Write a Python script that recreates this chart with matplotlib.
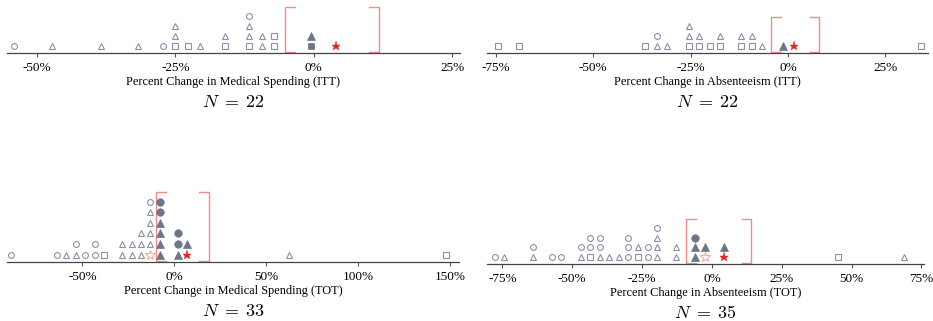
import matplotlib
matplotlib.use('Agg')
from matplotlib import pyplot as plt

plt.rcParams['font.family'] = ['Liberation Serif', 'DejaVu Serif']
plt.rcParams['mathtext.fontset'] = 'cm'

# Marker codes: o/^/s open circle/triangle/square, O/A/S filled versions,
# * = this study's estimate (red star), w = open pink star

# Medical spending, ITT
med_itt_x = [-54.1, -47.3, -38.4, -31.7, -27.3, -25.1, -25.1, -25.1, -22.8, -20.5,
             -16.1, -16.1, -11.7, -11.7, -11.7, -11.7, -9.4, -9.4, -7.2, -7.2,
             -0.5, -0.5, 4.0]
med_itt_m = ['o', '^', '^', '^', 'o', 's', '^', '^', 's', '^',
             's', '^', 's', '^', '^', 'o', '^', '^', 's', 's',
             'S', 'A', '*']
med_itt_ci = [-5.2, 11.8]

# Absenteeism, ITT
abs_itt_x = [-74.4, -69.0, -36.8, -33.6, -33.6, -31.0, -25.5, -25.5, -25.5, -22.8,
             -22.8, -20.1, -17.4, -17.4, -12.0, -12.0, -9.2, -9.2, -6.6, -1.3,
             1.5, 34.2]
abs_itt_m = ['s', 's', 's', '^', 'o', '^', 's', '^', '^', 's',
             '^', 's', 's', '^', 's', '^', 's', '^', '^', 'A',
             '*', 's']
abs_itt_ci = [-4.4, 8.0]

# Medical spending, TOT
med_tot_x = [-88.6, -63.6, -58.7, -53.6, -53.6, -48.4, -43.3, -43.3, -38.2,
             -28.3, -28.3, -23.2, -23.2, -18.1, -18.1, -18.1,
             -13.0, -13.0, -13.0, -13.0, -13.0, -13.0,
             -8.0, -8.0, -8.0, -8.0, -8.0, -8.0,
             2.0, 2.0, 2.0, 7.1, 7.1, 62.3, 147.8]
med_tot_m = ['o', 'o', '^', '^', 'o', 'o', 'o', 'o', 's',
             '^', '^', '^', '^', '^', '^', '^',
             'w', '^', '^', '^', '^', 'o',
             'A', 'A', 'A', 'A', 'O', 'O',
             'A', 'O', 'O', '*', 'A', '^', 's']
med_tot_ci = [-10.1, 18.8]

# Absenteeism, TOT
abs_tot_x = [-77.7, -74.4, -64.0, -64.0, -57.2, -53.9, -47.0, -47.0,
             -43.5, -43.5, -43.5, -40.2, -40.2, -40.2, -36.8, -33.4,
             -29.9, -29.9, -29.9, -26.5, -26.5, -23.0, -23.0,
             -19.7, -19.7, -19.7, -19.7, -12.7, -12.7,
             -5.9, -5.9, -5.9, -2.6, -2.6, 4.2, 4.2, 45.1, 68.9]
abs_tot_m = ['o', '^', '^', 'o', 'o', 'o', '^', 'o',
             's', 'o', 'o', '^', 'o', 'o', '^', '^',
             'o', 'o', 'o', 's', '^', 'o', 'o',
             '^', '^', '^', 'o', '^', '^',
             'A', 'A', 'O', 'w', 'A', '*', 'A', 's', '^']
abs_tot_ci = [-9.2, 14.1]

open_col = '#8a91a8'
fill_col = '#6d7589'
styles = {
    'o': dict(marker='o', ms=4.2, mfc='white', mec=open_col, mew=0.8),
    '^': dict(marker='^', ms=4.6, mfc='white', mec=open_col, mew=0.8),
    's': dict(marker='s', ms=4.0, mfc='white', mec=open_col, mew=0.8),
    'O': dict(marker='o', ms=5.4, mfc=fill_col, mec=fill_col, mew=0.5),
    'A': dict(marker='^', ms=5.6, mfc=fill_col, mec=fill_col, mew=0.5),
    'S': dict(marker='s', ms=5.0, mfc=fill_col, mec=fill_col, mew=0.5),
    '*': dict(marker='*', ms=6.5, mfc='#e3281d', mec='#e3281d', mew=0.3),
    'w': dict(marker='*', ms=7.0, mfc='white', mec='#f3a39c', mew=0.7),
}

W, H = 933, 321
fig = plt.figure(figsize=(W / 100, H / 100), dpi=100)

# (x list, marker list, ci, xlim, ticks, label, N, px box: left, right, axis y, row spacing)
panels = [
    (med_itt_x, med_itt_m, med_itt_ci, (-55.4, 26.4), [-50, -25, 0, 25],
     'Percent Change in Medical Spending (ITT)', 22, (7, 460, 53, 10.0)),
    (abs_itt_x, abs_itt_m, abs_itt_ci, (-77.2, 35.9), [-75, -50, -25, 0, 25],
     'Percent Change in Absenteeism (ITT)', 22, (487, 928, 53, 10.0)),
    (med_tot_x, med_tot_m, med_tot_ci, (-91, 154.7), [-50, 0, 50, 100, 150],
     'Percent Change in Medical Spending (TOT)', 33, (7, 459, 262, 10.6)),
    (abs_tot_x, abs_tot_m, abs_tot_ci, (-80.5, 75.9), [-75, -50, -25, 0, 25, 50, 75],
     'Percent Change in Absenteeism (TOT)', 35, (487, 924, 264, 9.8)),
]

for xs, ms, ci, xlim, ticks, label, n, (l, r, yax, sp) in panels:
    top = yax - 52 if yax < 100 else yax - 85
    ax = fig.add_axes([l / W, 1 - yax / H, (r - l) / W, (yax - top) / H])
    ax.set_xlim(*xlim)
    ax.set_ylim(0.3, 0.3 + (yax - top) / sp)

    counts = {}
    for x, m in zip(xs, ms):
        counts[x] = counts.get(x, 0) + 1
        ax.plot([x], [counts[x]], ls='none', clip_on=False, zorder=3, **styles[m])

    # bracket for the confidence interval
    yb, yt = 0.42, max(counts.values()) + 0.9
    tk = 1.8 * (xlim[1] - xlim[0]) / 82
    bc = '#f38b8b'
    ax.plot([ci[0] + tk, ci[0], ci[0], ci[0] + tk], [yb, yb, yt, yt], color=bc, lw=1.0)
    ax.plot([ci[1] - tk, ci[1], ci[1], ci[1] - tk], [yb, yb, yt, yt], color=bc, lw=1.0)

    for s in ['top', 'left', 'right']:
        ax.spines[s].set_visible(False)
    ax.spines['bottom'].set_color('#444444')
    ax.spines['bottom'].set_linewidth(0.9)
    ax.set_yticks([])
    ax.set_xticks(ticks)
    ax.set_xticklabels([f'{t}%' for t in ticks], fontsize=9.5)
    ax.tick_params(axis='x', length=3, width=0.8, color='#555555', pad=3.5)
    ax.set_xlabel(label, fontsize=8.8, labelpad=1.5)

    fig.text((l + r) / 2 / W, 1 - (yax + 50) / H, f'$N\\;=\\;{n}$',
             ha='center', va='center', fontsize=13)

fig.savefig('out.png', dpi=100)
